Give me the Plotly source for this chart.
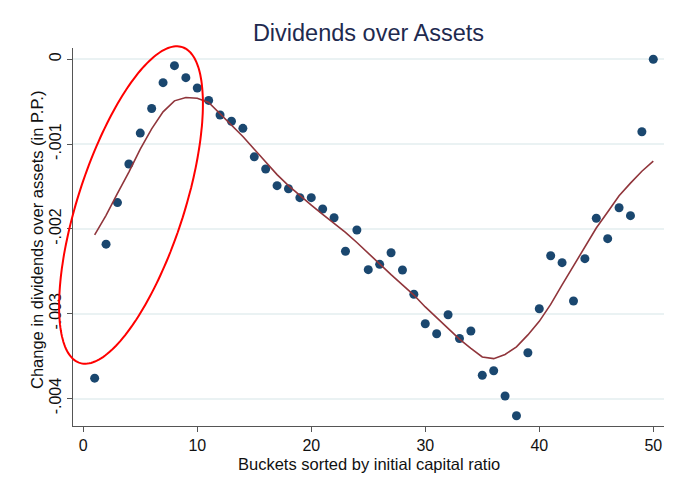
import numpy as np
import plotly.graph_objects as go

# data
buckets = list(range(1, 51))
div_change = [
    -0.00376, -0.00218, -0.00169, -0.001235, -0.00087, -0.00058, -0.000276, -0.000075, -0.000217, -0.000338,
    -0.000485, -0.000657, -0.000731, -0.000814, -0.00115, -0.001294, -0.00149, -0.001526, -0.001632, -0.001632,
    -0.001765, -0.001868, -0.002264, -0.002013, -0.002481, -0.002418, -0.002281, -0.002485, -0.002771, -0.003118,
    -0.003236, -0.003012, -0.003292, -0.003204, -0.003726, -0.003672, -0.00397, -0.004203, -0.00346, -0.002941,
    -0.002316, -0.002398, -0.00285, -0.002351, -0.001875, -0.002115, -0.00175, -0.001844, -0.000854, 0.0,
]
lowess_fit = [
    -0.00207, -0.00184, -0.00158, -0.00133, -0.00106, -0.00082, -0.00062, -0.00049, -0.00045, -0.00046,
    -0.00051, -0.00064, -0.00077, -0.00091, -0.00106, -0.00121, -0.00136, -0.00149, -0.00161, -0.00172,
    -0.00183, -0.00193, -0.00204, -0.00216, -0.00229, -0.00241, -0.00254, -0.00266, -0.00278, -0.00292,
    -0.00305, -0.00318, -0.00330, -0.00341, -0.00351, -0.00353, -0.00348, -0.00339, -0.00325, -0.00309,
    -0.00289, -0.00266, -0.00244, -0.00221, -0.00199, -0.00180, -0.00161, -0.00146, -0.00132, -0.00120,
]
ytick_vals = [0, -0.001, -0.002, -0.003, -0.004]
ytick_text = ["0", "-.001", "-.002", "-.003", "-.004"]
xtick_vals = [0, 10, 20, 30, 40, 50]

# the page body has an 8px margin, so the figure is drawn 8px in from the corner
OFF = 8
W, H = 673 - 2 * OFF, 495 - 2 * OFF
# plot area in page pixels: x 73..664, y 48..426
PL, PR, PT, PB = 73, 664, 48, 426
FONT = "Liberation Sans, Arial, sans-serif"

def to_paper(px, py):
    # page pixel position -> paper coords of the plot area
    return (px - PL) / (PR - PL), (PB - py) / (PB - PT)

fig = go.Figure()

fig.add_trace(go.Scatter(
    x=buckets, y=div_change, mode="markers",
    marker=dict(color="#1a476f", size=9),
    hoverinfo="x+y",
))
fig.add_trace(go.Scatter(
    x=buckets, y=lowess_fit, mode="lines",
    line=dict(color="#90353b", width=1.6),
))

# red hand-drawn style ellipse highlighting the first buckets
t = np.linspace(0, 2 * np.pi, 200)
cx, cy, a, b, ang = 131, 205, 166, 53, np.radians(18)
ex = cx + a * np.cos(t) * np.sin(ang) + b * np.sin(t) * np.cos(ang)
ey = cy - a * np.cos(t) * np.cos(ang) + b * np.sin(t) * np.sin(ang)
pts = [to_paper(x, y) for x, y in zip(ex, ey)]
path = "M " + " L ".join(f"{x:.4f},{y:.4f}" for x, y in pts) + " Z"

fig.update_layout(
    template="none",
    width=W, height=H, autosize=False,
    margin=dict(l=PL - OFF, r=W - (PR - OFF), t=PT - OFF, b=H - (PB - OFF)),
    paper_bgcolor="white", plot_bgcolor="white",
    showlegend=False,
    font=dict(family=FONT, size=16, color="#111111"),
    title=dict(text="Dividends over Assets", x=0.5, xref="paper", xanchor="center",
               y=1 - (33 - OFF) / H, yanchor="middle",
               font=dict(family=FONT, size=23.5, color="#1e2a4f")),
    xaxis=dict(range=[-0.9, 50.94], tickvals=xtick_vals, showgrid=False, zeroline=False,
               automargin=False,
               showline=True, linecolor="#555555", linewidth=1,
               ticks="outside", ticklen=5, tickcolor="#555555",
               tickfont=dict(size=16, color="#111111")),
    yaxis=dict(range=[-0.004324, 0.000133], tickvals=ytick_vals, ticktext=ytick_text,
               automargin=False,
               tickangle=-90, showgrid=True, gridcolor="#eaf2f3", gridwidth=1.5,
               zeroline=False, showline=True, linecolor="#555555", linewidth=1,
               ticks="outside", ticklen=5, tickcolor="#555555",
               tickfont=dict(size=16, color="#111111")),
    shapes=[
        dict(type="path", path=path, xref="paper", yref="paper",
             line=dict(color="#ff0000", width=2)),
    ],
    annotations=[
        dict(text="Change in dividends over assets (in P.P.)", textangle=-90,
             xref="paper", yref="paper", x=to_paper(37, 0)[0], y=to_paper(0, 240)[1],
             xanchor="center", yanchor="middle", showarrow=False,
             font=dict(family=FONT, size=16.5, color="#111111")),
        dict(text="Buckets sorted by initial capital ratio",
             xref="paper", yref="paper", x=0.5, y=to_paper(0, 464)[1],
             xanchor="center", yanchor="middle", showarrow=False,
             font=dict(family=FONT, size=16.5, color="#111111")),
    ],
)

fig.write_html("out.html")
